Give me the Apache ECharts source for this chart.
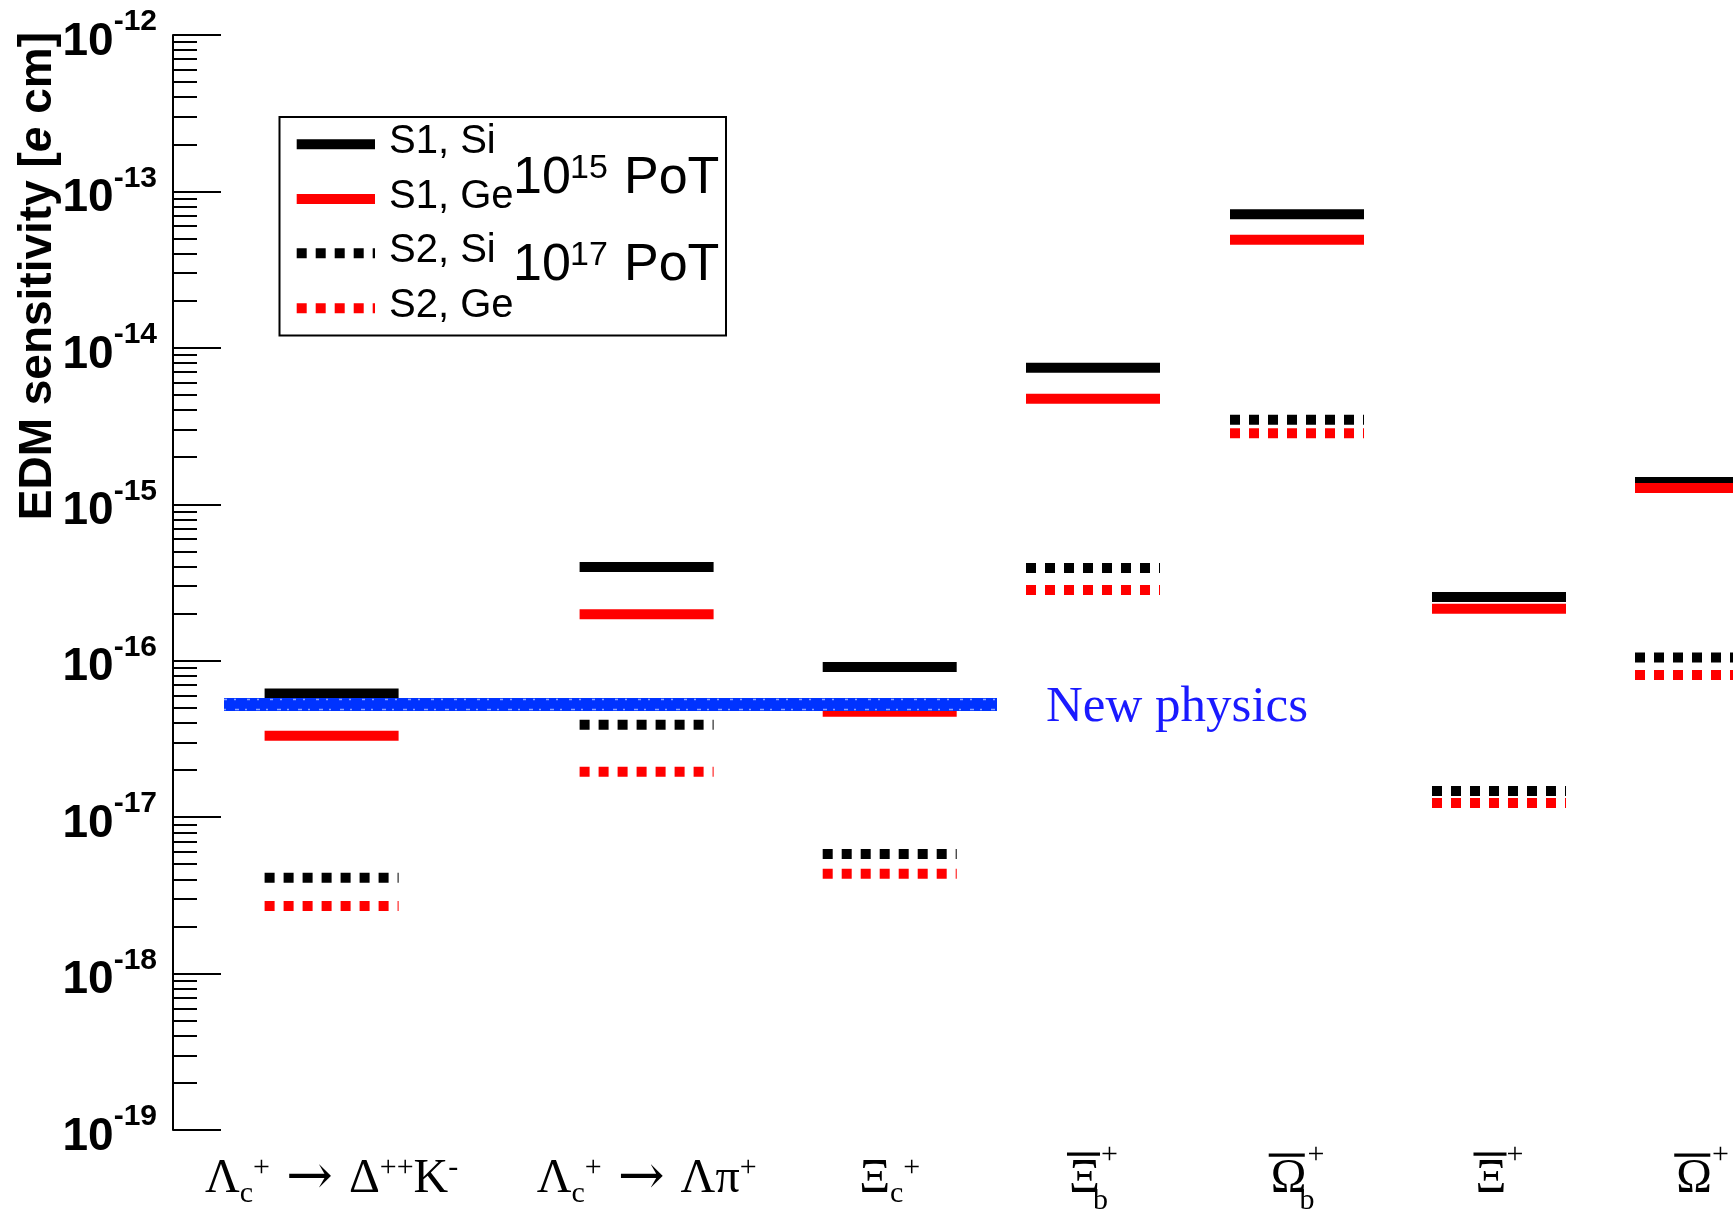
<!DOCTYPE html>
<html>
<head>
<meta charset="utf-8">
<script src="https://cdn.jsdelivr.net/npm/echarts@6/dist/echarts.min.js"></script>
<style>
html,body{margin:0;padding:0;background:#ffffff;}
#chart{width:1733px;height:1209px;}
</style>
</head>
<body>
<div id="chart"></div>
<script>
// ---------------- data ----------------
const categories = ['Lambda_c+ -> Delta++ K-', 'Lambda_c+ -> Lambda pi+', 'Xi_c+', 'anti-Xi_b+', 'anti-Omega_b+', 'anti-Xi+', 'anti-Omega+'];
const categoryLabels = [
  '{m|\u039B}{sb|c}{sp|+}{m| }{ar|\u2192}{m| \u0394}{sp|++}{m|K}{sp|-}',
  '{m|\u039B}{sb|c}{sp|+}{m| }{ar|\u2192}{m| \u039B\u03C0}{sp|+}',
  '{m|\u039E}{sb|c}{sp|+}',
  '{olx|\u2014}{m|\u039E}{sbo|b}{spo|+}',
  '{olo|\u2014}{m|\u03A9}{sbo|b}{spo|+}',
  '{olx|\u2014}{m|\u039E}{spo|+}',
  '{olo|\u2014}{m|\u03A9}{spo|+}'
];
const xPositions = [1.586, 4.736, 7.167, 9.20, 11.24, 13.26, 15.29];
const s1Si = [6.17e-17, 3.98e-16, 9.1e-17, 7.45e-15, 7.14e-14, 2.55e-16, 1.39e-15];
const s1Ge = [3.31e-17, 1.98e-16, 4.72e-17, 4.72e-15, 4.91e-14, 2.15e-16, 1.27e-15];
const s2Si = [4.1e-18, 3.89e-17, 5.81e-18, 3.92e-16, 3.47e-15, 1.47e-17, 1.05e-16];
const s2Ge = [2.7e-18, 1.95e-17, 4.34e-18, 2.83e-16, 2.85e-15, 1.23e-17, 8.09e-17];
const newPhysicsLevel = [5.25e-17];
const newPhysicsRange = [0.51, 8.24];
const yTickExponents = [-19, -18, -17, -16, -15, -14, -13, -12];
const seriesNames = ['S1, Si', 'S1, Ge', 'S2, Si', 'S2, Ge'];
const potLabels = [['10', '15', 'PoT'], ['10', '17', 'PoT']];

// ---------------- styles ----------------
const BAR_HALF = 0.67;
const BAR_W = 10;
const DASH = [10, 9];
const BLACK = '#000000';
const RED = '#ff0000';
const BLUE = '#0033ff';
const SANS = '"Liberation Sans", Arial, Helvetica, sans-serif';
const SERIF = '"Liberation Serif", "Times New Roman", "DejaVu Serif", serif';

const majorTicks = yTickExponents.map(e => parseFloat('1e' + e));
const minorTicks = [];
yTickExponents.slice(0, -1).forEach(e => {
  for (let k = 2; k <= 9; k++) minorTicks.push(parseFloat(k + 'e' + e));
});

function barSeries(name, values, color, dashed, z) {
  return {
    name: name,
    type: 'custom',
    xAxisIndex: 0,
    yAxisIndex: 0,
    z: z,
    clip: false,
    silent: true,
    encode: { x: 0, y: 1 },
    data: xPositions.map((x, i) => [x, values[i]]),
    renderItem: function (params, api) {
      const x = api.value(0), v = api.value(1);
      const a = api.coord([x - BAR_HALF, v]);
      const b = api.coord([x + BAR_HALF, v]);
      return {
        type: 'line',
        shape: { x1: a[0], y1: a[1], x2: b[0], y2: b[1] },
        style: { stroke: color, lineWidth: BAR_W, lineDash: dashed ? DASH : null, lineCap: 'butt', fill: null }
      };
    }
  };
}

const bandSeries = {
  name: 'New physics',
  type: 'custom',
  xAxisIndex: 0,
  yAxisIndex: 0,
  z: 10,
  silent: true,
  clip: false,
  encode: { x: [0, 1], y: 2 },
  data: newPhysicsLevel.map(v => [newPhysicsRange[0], newPhysicsRange[1], v]),
  renderItem: function (params, api) {
    const v = api.value(2);
    const a = api.coord([api.value(0), v]);
    const b = api.coord([api.value(1), v]);
    return {
      type: 'group',
      children: [
        { type: 'line', shape: { x1: a[0], y1: a[1], x2: b[0], y2: b[1] },
          style: { stroke: BLUE, lineWidth: 13, lineCap: 'butt', fill: null } },
        { type: 'line', shape: { x1: a[0], y1: a[1] - 5, x2: b[0], y2: b[1] - 5 },
          style: { stroke: 'rgba(255,255,255,0.55)', lineWidth: 1.5, lineDash: [3, 7, 2, 11], lineCap: 'butt', fill: null } },
        { type: 'line', shape: { x1: a[0], y1: a[1] + 5, x2: b[0], y2: b[1] + 5 },
          style: { stroke: 'rgba(255,255,255,0.55)', lineWidth: 1.5, lineDash: [2, 9, 4, 6], lineCap: 'butt', fill: null } }
      ]
    };
  }
};

// ---------------- legend (drawn) ----------------
const legendRows = [144.3, 199, 253.3, 308.3];
const legendColors = [BLACK, RED, BLACK, RED];
const legendDashed = [false, false, true, true];
const graphics = [
  { type: 'rect', z: 50, shape: { x: 279.5, y: 117, width: 446.5, height: 218.5 },
    style: { fill: '#ffffff', stroke: '#000000', lineWidth: 2 } }
];
seriesNames.forEach((n, i) => {
  graphics.push({ type: 'line', z: 51,
    shape: { x1: 296.7, y1: legendRows[i], x2: 375, y2: legendRows[i] },
    style: { stroke: legendColors[i], lineWidth: BAR_W, lineDash: legendDashed[i] ? DASH : null, lineCap: 'butt' } });
  graphics.push({ type: 'text', z: 51, x: 389, y: legendRows[i] - 2.5,
    style: { text: n, font: '40px ' + SANS, fill: '#000', align: 'left', verticalAlign: 'middle' } });
});
const potBaselines = [196.7, 283.3];
potLabels.forEach((p, i) => {
  const base = potBaselines[i];
  graphics.push({ type: 'text', z: 52, x: 513, y: base - 18,
    style: { text: p[0], font: '52px ' + SANS, fill: '#000', align: 'left', verticalAlign: 'middle' } });
  graphics.push({ type: 'text', z: 52, x: 570, y: base - 28,
    style: { text: p[1], font: '34px ' + SANS, fill: '#000', align: 'left', verticalAlign: 'middle' } });
  graphics.push({ type: 'text', z: 52, x: 624, y: base - 18,
    style: { text: p[2], font: '52px ' + SANS, fill: '#000', align: 'left', verticalAlign: 'middle' } });
});
// y axis title
graphics.push({ type: 'text', z: 52, x: 38, y: 32, rotation: Math.PI / 2,
  style: {
    text: '{b|EDM sensitivity [}{i|e}{b| cm]}',
    align: 'right', verticalAlign: 'middle',
    rich: {
      b: { fontFamily: SANS, fontWeight: 'bold', fontSize: 46, fill: '#000' },
      i: { fontFamily: SANS, fontWeight: 'bold', fontStyle: 'italic', fontSize: 46, fill: '#000' }
    }
  } });
// New physics annotation
graphics.push({ type: 'text', z: 52, x: 1046, y: 708,
  style: { text: 'New physics', font: '51px ' + SERIF, fill: '#1a1aff', align: 'left', verticalAlign: 'middle' } });

// ---------------- chart ----------------
const xRich = {
  m: { fontFamily: SERIF, fontSize: 48, lineHeight: 60, color: '#000', verticalAlign: 'middle' },
  ar: { fontFamily: '"DejaVu Serif", serif', fontSize: 56, lineHeight: 56, color: '#000', verticalAlign: 'middle', padding: [0, 4, 0, 4] },
  sb: { fontFamily: SERIF, fontSize: 30, lineHeight: 10, color: '#000', verticalAlign: 'middle', padding: [30, 0, 0, 0] },
  sp: { fontFamily: SERIF, fontSize: 30, lineHeight: 10, color: '#000', verticalAlign: 'middle', padding: [0, 0, 22, 0] },
  sbo: { fontFamily: SERIF, fontSize: 30, lineHeight: 10, color: '#000', verticalAlign: 'middle', padding: [44, 0, 0, 0], width: 1, align: 'left' },
  spo: { fontFamily: SERIF, fontSize: 30, lineHeight: 10, color: '#000', verticalAlign: 'middle', padding: [0, 0, 48, 0] },
  olx: { fontFamily: SERIF, fontSize: 31, lineHeight: 10, color: '#000', verticalAlign: 'middle', padding: [0, 0, 50, 0], width: 1, align: 'left', textBorderColor: '#000', textBorderWidth: 1.6 },
  olo: { fontFamily: SERIF, fontSize: 34, lineHeight: 10, color: '#000', verticalAlign: 'middle', padding: [0, 0, 50, 0], width: 1, align: 'left', textBorderColor: '#000', textBorderWidth: 1.6 }
};

const chart = echarts.init(document.getElementById('chart'), null, { renderer: 'canvas' });
chart.setOption({
  backgroundColor: '#ffffff',
  animation: false,
  grid: { left: 173, top: 35, right: 0, height: 1095, containLabel: false, outerBoundsMode: 'none' },
  xAxis: {
    type: 'value', min: 0, max: 15.6,
    axisLine: { show: false },
    axisTick: { show: false },
    splitLine: { show: false },
    axisLabel: {
      customValues: xPositions,
      margin: 19,
      formatter: function (val) {
        let best = 0;
        xPositions.forEach((x, i) => { if (Math.abs(x - val) < Math.abs(xPositions[best] - val)) best = i; });
        return categoryLabels[best];
      },
      rich: xRich
    }
  },
  yAxis: [
    {
      type: 'log', logBase: 10, min: 1e-19, max: 1e-12, position: 'left',
      axisLine: { show: true, lineStyle: { color: '#000', width: 2 } },
      axisTick: { show: true, inside: true, length: 48, customValues: majorTicks, lineStyle: { color: '#000', width: 2 } },
      minorTick: { show: false },
      splitLine: { show: false },
      axisLabel: {
        customValues: majorTicks,
        margin: 16,
        formatter: function (val) {
          const e = Math.round(Math.log10(val));
          return '{m|10}{s|' + e + '}';
        },
        rich: {
          m: { fontFamily: SANS, fontWeight: 'bold', fontSize: 46, lineHeight: 46, color: '#000', verticalAlign: 'middle', padding: [14, 0, 0, 0] },
          s: { fontFamily: SANS, fontWeight: 'bold', fontSize: 30, lineHeight: 30, color: '#000', verticalAlign: 'middle', padding: [0, 0, 26, 0] }
        }
      }
    },
    {
      type: 'log', logBase: 10, min: 1e-19, max: 1e-12, position: 'left', offset: 0,
      axisLine: { show: false },
      axisTick: { show: true, inside: true, length: 24, customValues: minorTicks, lineStyle: { color: '#000', width: 2 } },
      axisLabel: { show: false },
      splitLine: { show: false }
    }
  ],
  series: [
    barSeries(seriesNames[0], s1Si, BLACK, false, 2),
    barSeries(seriesNames[1], s1Ge, RED, false, 3),
    barSeries(seriesNames[2], s2Si, BLACK, true, 4),
    barSeries(seriesNames[3], s2Ge, RED, true, 5),
    bandSeries
  ],
  graphic: graphics
});
</script>
</body>
</html>
